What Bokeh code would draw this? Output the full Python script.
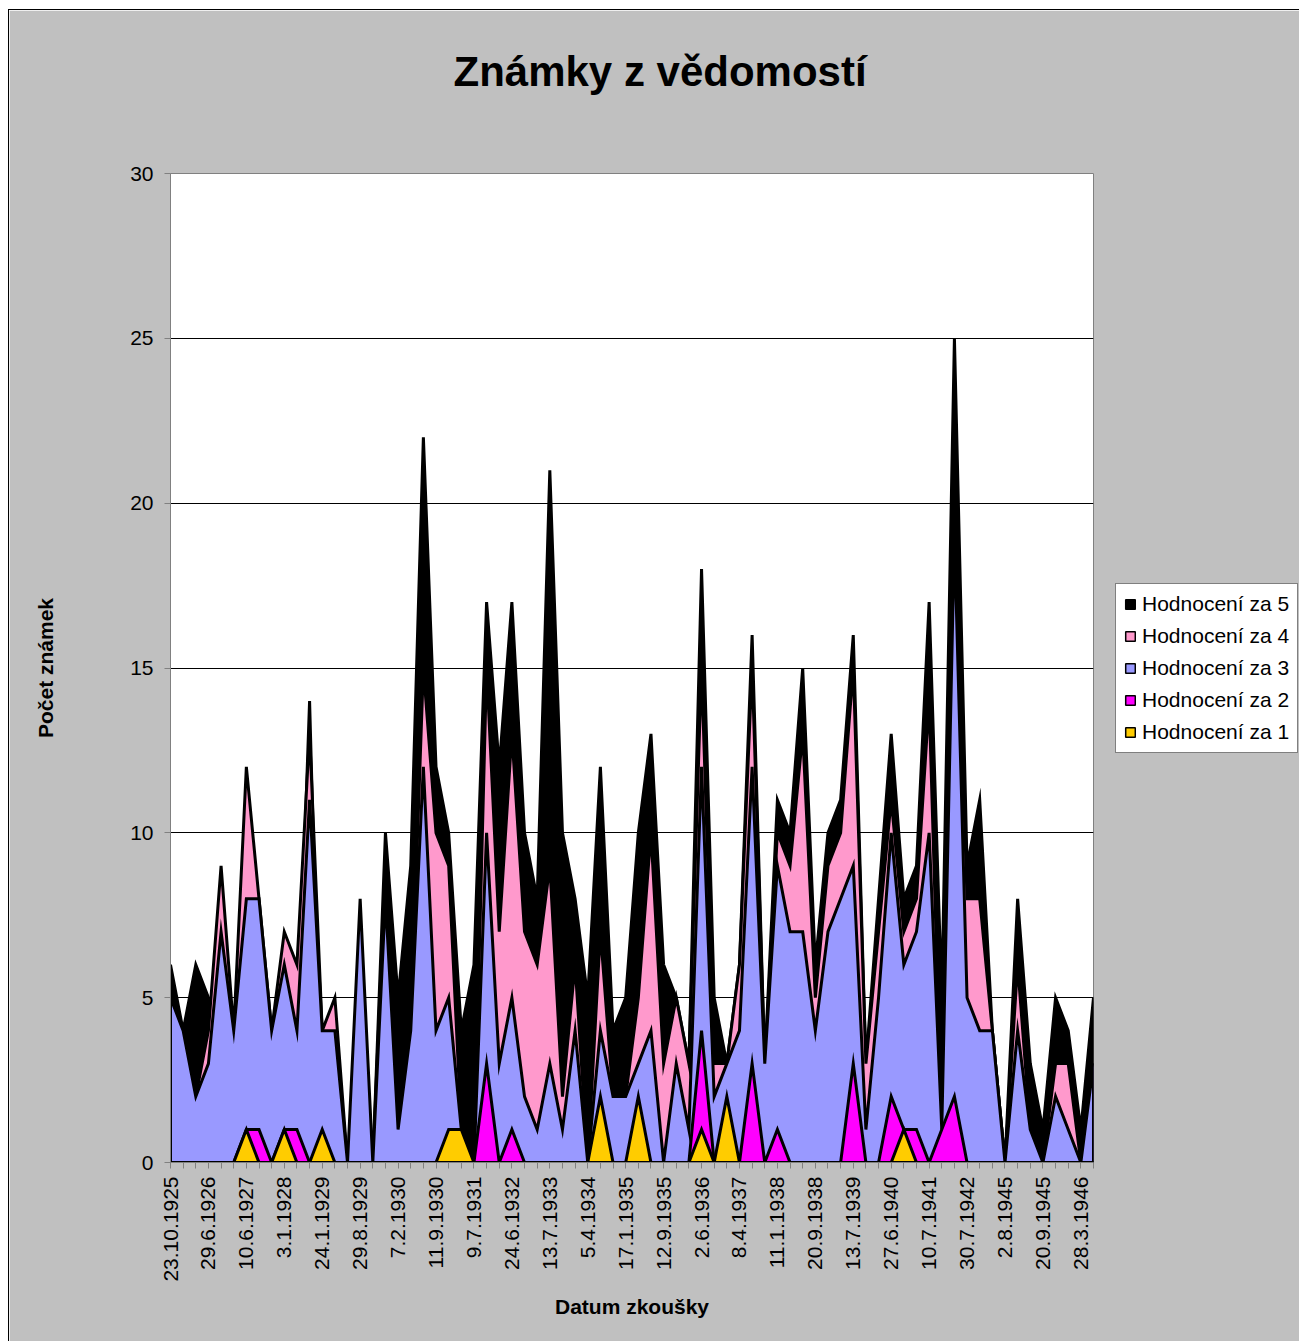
import math
from bokeh.plotting import figure
from bokeh.models import Range1d, FixedTicker, Legend, LegendItem
from bokeh.embed import file_html
from bokeh.resources import INLINE

# ---- data (one value per examination date, 74 dates) ----
tick_dates = ["23.10.1925", "29.6.1926", "10.6.1927", "3.1.1928", "24.1.1929",
              "29.8.1929", "7.2.1930", "11.9.1930", "9.7.1931", "24.6.1932",
              "13.7.1933", "5.4.1934", "17.1.1935", "12.9.1935", "2.6.1936",
              "8.4.1937", "11.1.1938", "20.9.1938", "13.7.1939", "27.6.1940",
              "10.7.1941", "30.7.1942", "2.8.1945", "20.9.1945", "28.3.1946"]

za5 = [6, 4, 6, 5, 2, 2, 3, 3, 3, 3, 3, 14, 0, 0, 0, 0, 0, 10, 5, 9,
       22, 12, 10, 4, 6, 17, 12, 17, 10, 8, 21, 10, 8, 5, 12, 4, 5, 10, 13, 6,
       5, 3, 18, 5, 3, 6, 16, 3, 11, 10, 15, 6, 10, 11, 16, 3, 8, 13, 8, 9,
       17, 5, 25, 9, 11, 4, 0, 8, 3, 1, 5, 4, 1, 5]
za4 = [0, 0, 2, 4, 9, 4, 12, 8, 4, 7, 6, 13, 4, 5, 0, 0, 0, 9, 1, 4,
       15, 10, 9, 1, 0, 15, 7, 13, 7, 6, 9, 2, 6, 0, 7, 2, 2, 5, 10, 3,
       5, 3, 15, 3, 3, 6, 15, 3, 10, 9, 13, 5, 9, 10, 15, 3, 7, 11, 7, 8,
       14, 1, 20, 8, 8, 4, 0, 6, 1, 0, 3, 3, 0, 3]
za3 = [5, 4, 2, 3, 7, 4, 8, 8, 4, 6, 4, 11, 4, 4, 0, 8, 0, 8, 1, 4,
       12, 4, 5, 1, 0, 10, 3, 5, 2, 1, 3, 1, 4, 0, 4, 2, 2, 3, 4, 0,
       3, 1, 12, 2, 3, 4, 12, 3, 9, 7, 7, 4, 7, 8, 9, 1, 5, 10, 6, 7,
       10, 1, 19, 5, 4, 4, 0, 4, 1, 0, 2, 1, 0, 3]
za2 = [0, 0, 0, 0, 0, 0, 1, 1, 0, 1, 1, 0, 0, 0, 0, 0, 0, 0, 0, 0,
       0, 0, 0, 0, 0, 3, 0, 1, 0, 0, 0, 0, 0, 0, 0, 0, 0, 0, 0, 0,
       0, 0, 4, 0, 0, 0, 3, 0, 1, 0, 0, 0, 0, 0, 3, 0, 0, 2, 1, 1,
       0, 1, 2, 0, 0, 0, 0, 0, 0, 0, 0, 0, 0, 0]
za1 = [0, 0, 0, 0, 0, 0, 1, 0, 0, 1, 0, 0, 1, 0, 0, 0, 0, 0, 0, 0,
       0, 0, 1, 1, 0, 0, 0, 0, 0, 0, 0, 0, 0, 0, 2, 0, 0, 2, 0, 0,
       0, 0, 1, 0, 2, 0, 0, 0, 0, 0, 0, 0, 0, 0, 0, 0, 0, 0, 1, 0,
       0, 0, 0, 0, 0, 0, 0, 0, 0, 0, 0, 0, 0, 0]

series = [("Hodnocení za 5", za5, "#000000"),
          ("Hodnocení za 4", za4, "#FF99CC"),
          ("Hodnocení za 3", za3, "#9999FF"),
          ("Hodnocení za 2", za2, "#FF00FF"),
          ("Hodnocení za 1", za1, "#FFCC00")]

n = len(za5)
xs = list(range(n))
FONT = "Liberation Sans"
NAN = float("nan")

p = figure(frame_width=923, frame_height=989, x_range=Range1d(0, n - 1), y_range=Range1d(0, 30),
           output_backend="svg", toolbar_location=None,
           min_border_left=161, min_border_right=206, min_border_top=163, min_border_bottom=179)
p.styles = {"margin-left": "8px", "margin-top": "9px",
            "border-left": "1px solid black", "border-top": "1px solid black"}
p.background_fill_color = "white"
p.border_fill_color = "#C0C0C0"
p.outline_line_color = "#808080"
p.outline_line_width = 1

# title (second, blank line lifts the visible line upward)
p.title.text = "Známky z vědomostí\n "
p.title.align = "left"
p.title.offset = 283
p.title.standoff = 63
p.title.text_font = FONT
p.title.text_font_size = "42px"
p.title.text_font_style = "bold"
p.title.text_color = "black"

# areas (overlapping, back to front)
for name, vals, col in series:
    px = xs + [xs[-1], xs[0]]
    py = list(vals) + [0, 0]
    p.patch(px, py, fill_color=col, line_color="black", line_width=3, line_join="miter")

# legend (key swatches only)
items = []
for name, vals, col in series:
    d = p.patch(x=[NAN, NAN, NAN], y=[NAN, NAN, NAN], fill_color=col,
                line_color="black", line_width=1.5)
    items.append(LegendItem(label=name, renderers=[d]))
legend = Legend(items=items, location=(22, 409), margin=0, padding=8, spacing=8,
                glyph_width=12, glyph_height=12, label_height=21, label_standoff=6,
                label_text_font=FONT, label_text_font_size="21px", label_text_color="black",
                background_fill_color="white", background_fill_alpha=1.0,
                border_line_color="black", border_line_width=1)
p.add_layout(legend, "right")

# axes
p.xaxis.ticker = FixedTicker(ticks=xs)
overrides = {}
for i in xs:
    overrides[i] = tick_dates[i // 3] if i % 3 == 0 else ""
p.xaxis.major_label_overrides = overrides
p.xaxis.major_label_orientation = math.pi / 2
p.yaxis.ticker = FixedTicker(ticks=[0, 5, 10, 15, 20, 25, 30])
for ax in (p.xaxis, p.yaxis):
    ax.axis_line_color = "#808080"
    ax.major_tick_line_color = "#808080"
    ax.major_tick_out = 6
    ax.major_tick_in = 0
    ax.minor_tick_line_color = None
    ax.major_label_text_font = FONT
    ax.major_label_text_font_size = "21px"
    ax.major_label_text_color = "black"
    ax.axis_label_text_font = FONT
    ax.axis_label_text_font_size = "21px"
    ax.axis_label_text_font_style = "bold"
    ax.axis_label_text_color = "black"
p.xaxis.major_label_standoff = 8
p.yaxis.major_label_standoff = 11
p.xaxis.axis_label = "Datum zkoušky"
p.yaxis.axis_label = "Počet známek"
p.xaxis.axis_label_standoff = 10
p.yaxis.axis_label_standoff = 70

p.xgrid.visible = False
p.ygrid.ticker = FixedTicker(ticks=[5, 10, 15, 20, 25])
p.ygrid.grid_line_color = "black"
p.ygrid.grid_line_width = 1

open("out.html", "w").write(file_html(p, INLINE))
